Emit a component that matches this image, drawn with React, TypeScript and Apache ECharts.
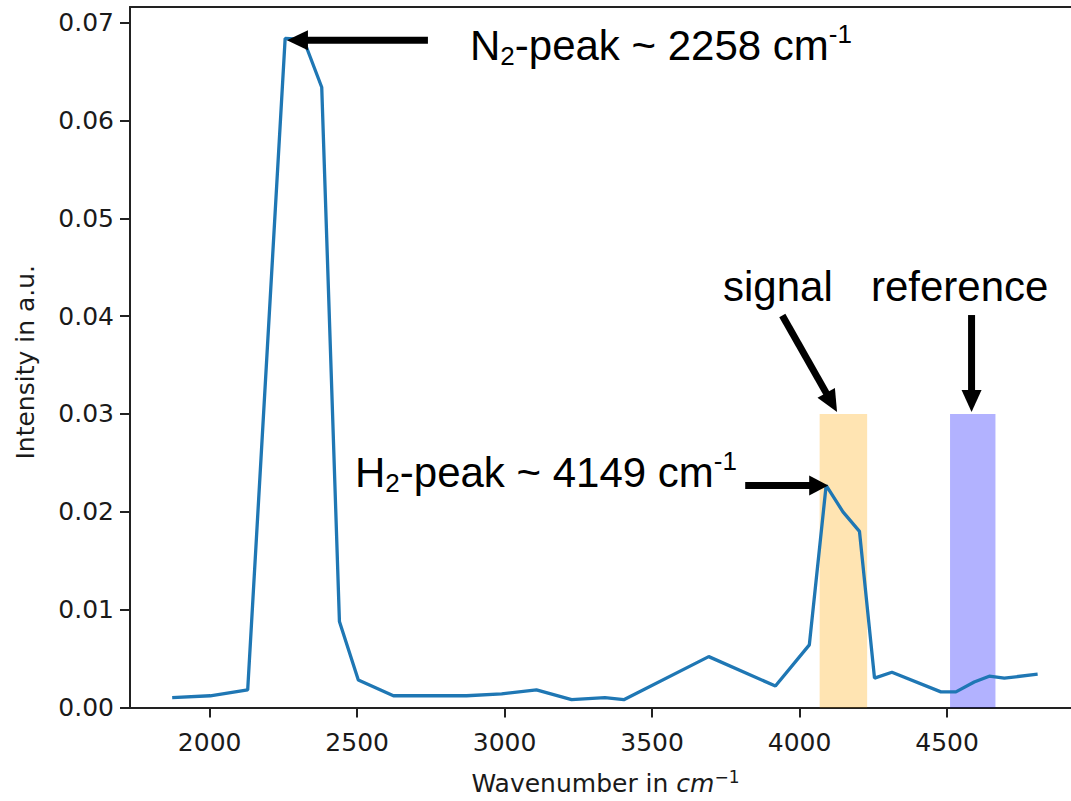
import React, { useEffect, useRef } from "react";
import * as echarts from "echarts";

// ---- data ----
const wavenumbers = [
  1873, 2002, 2129, 2256, 2318, 2380, 2440, 2504, 2623, 2750, 2871, 2990, 3108,
  3227, 3340, 3404, 3692, 3918, 4033, 4090, 4147, 4203, 4254, 4313, 4479, 4530,
  4592, 4643, 4694, 4807,
];
const intensity = [
  0.001, 0.0012, 0.0018, 0.0684, 0.0683, 0.0634, 0.0088, 0.0028, 0.0012, 0.0012,
  0.0012, 0.0014, 0.0018, 0.0008, 0.001, 0.0008, 0.0052, 0.0022, 0.0064, 0.0227,
  0.02, 0.018, 0.003, 0.0036, 0.0016, 0.0016, 0.0026, 0.0032, 0.003, 0.0034,
];
const xTicks = [2000, 2500, 3000, 3500, 4000, 4500];
const yTicks = [0, 0.01, 0.02, 0.03, 0.04, 0.05, 0.06, 0.07];
const signalBand = [4068, 4229];
const referenceBand = [4510, 4664];
const bandTop = 0.03;
const xLimits = [1730, 4954];
const yLimits = [0, 0.0716];

const n2Label = "{m|N}{sub|2}{m|-peak ~ 2258 cm}{sup|-1}";
const h2Label = "{m|H}{sub|2}{m|-peak ~ 4149 cm}{sup|-1}";
const signalLabel = "signal";
const referenceLabel = "reference";

export default function App() {
  const ref = useRef<HTMLDivElement>(null);

  useEffect(() => {
    const chart = echarts.init(ref.current!, null, { renderer: "svg" });
    const axisColor = "#222";
    const textColor = "#1a1a1a";
    const font = "DejaVu Sans";
    const axisLine = { show: true, onZero: false, lineStyle: { color: axisColor, width: 2 } };

    chart.setOption({
      animation: false,
      backgroundColor: "#ffffff",
      grid: { left: 130, top: 7, right: 19, bottom: 88, containLabel: false },
      xAxis: [
        {
          type: "value",
          min: xLimits[0],
          max: xLimits[1],
          position: "bottom",
          axisLine,
          axisTick: {
            show: true,
            length: 10,
            customValues: xTicks,
            lineStyle: { color: axisColor, width: 2 },
          },
          axisLabel: {
            customValues: xTicks,
            margin: 22,
            fontFamily: font,
            fontSize: 25,
            lineHeight: 25,
            color: textColor,
            formatter: (v: number) => String(v),
          },
          splitLine: { show: false },
          name: "{a|Wavenumber in }{i|cm}{s|\u22121}",
          nameLocation: "middle",
          nameGap: 61,
          nameTextStyle: {
            rich: {
              a: { fontFamily: font, fontSize: 25, lineHeight: 30, color: textColor },
              i: { fontFamily: font, fontStyle: "italic", fontSize: 25, lineHeight: 30, color: textColor },
              s: { fontFamily: font, fontSize: 17, lineHeight: 20, verticalAlign: "top", color: textColor },
            },
          },
        },
        {
          type: "value",
          min: xLimits[0],
          max: xLimits[1],
          position: "top",
          axisLine,
          axisTick: { show: false },
          axisLabel: { show: false },
          splitLine: { show: false },
        },
      ],
      yAxis: {
        type: "value",
        min: yLimits[0],
        max: yLimits[1],
        axisLine,
        axisTick: {
          show: true,
          length: 10,
          customValues: yTicks,
          lineStyle: { color: axisColor, width: 2 },
        },
        axisLabel: {
          customValues: yTicks,
          margin: 16,
          fontFamily: font,
          fontSize: 25,
          color: textColor,
          formatter: (v: number) => v.toFixed(2),
        },
        splitLine: { show: false },
        name: "Intensity in a.u.",
        nameLocation: "middle",
        nameRotate: 90,
        nameGap: 90,
        nameTextStyle: {
          fontFamily: font,
          fontSize: 25,
          lineHeight: 30,
          color: textColor,
          padding: [0, 10, 0, 0],
        },
      },
      series: [
        {
          type: "line",
          z: 1,
          data: [[wavenumbers[0], intensity[0]]],
          symbol: "none",
          lineStyle: { width: 0 },
          silent: true,
          markArea: {
            silent: true,
            label: { show: false },
            data: [
              [
                { xAxis: signalBand[0], yAxis: 0, itemStyle: { color: "rgba(255,165,0,0.3)" } },
                { xAxis: signalBand[1], yAxis: bandTop },
              ],
              [
                { xAxis: referenceBand[0], yAxis: 0, itemStyle: { color: "rgba(0,0,255,0.3)" } },
                { xAxis: referenceBand[1], yAxis: bandTop },
              ],
            ],
          },
        },
        {
          type: "line",
          z: 3,
          data: wavenumbers.map((x, i) => [x, intensity[i]]),
          symbol: "none",
          lineStyle: { color: "#1f77b4", width: 3.3 },
          itemStyle: { color: "#1f77b4" },
        },
      ],
    });

    const px = (v: number[]) =>
      chart.convertToPixel({ xAxisIndex: 0, yAxisIndex: 0 }, v) as number[];

    const arrow = (
      tipData: number[],
      dir: number[],
      length: number,
      headLen = 21,
      halfW = 10,
      shaftW = 7
    ) => {
      const [tx, ty] = px(tipData);
      const d = Math.hypot(dir[0], dir[1]);
      const ux = dir[0] / d;
      const uy = dir[1] / d;
      const nx = -uy;
      const ny = ux;
      const bx = tx - ux * headLen;
      const by = ty - uy * headLen;
      return [
        {
          type: "line",
          z: 100,
          shape: { x1: tx - ux * length, y1: ty - uy * length, x2: bx + ux * 2, y2: by + uy * 2 },
          style: { stroke: "#000", lineWidth: shaftW },
        },
        {
          type: "polygon",
          z: 100,
          shape: {
            points: [
              [tx, ty],
              [bx + nx * halfW, by + ny * halfW],
              [bx - nx * halfW, by - ny * halfW],
            ],
          },
          style: { fill: "#000" },
        },
      ];
    };

    const ann = "Liberation Sans";
    const rich = {
      m: { fontFamily: ann, fontSize: 42, lineHeight: 48, fill: "#000", color: "#000" },
      sub: { fontFamily: ann, fontSize: 26, lineHeight: 22, verticalAlign: "bottom", fill: "#000", color: "#000" },
      sup: { fontFamily: ann, fontSize: 26, lineHeight: 42, verticalAlign: "top", fill: "#000", color: "#000" },
    };
    const text = (t: string, x: number, y: number, withRich: boolean) => ({
      type: "text",
      z: 100,
      x,
      y,
      style: {
        text: t,
        fill: "#000",
        font: `42px "${ann}"`,
        fontFamily: ann,
        fontSize: 42,
        align: "left",
        verticalAlign: "middle",
        textAlign: "left",
        textVerticalAlign: "middle",
        ...(withRich ? { rich } : {}),
      },
    });

    chart.setOption({
      graphic: {
        elements: [
          ...arrow([2262, 0.0682], [-1, 0], 141),
          ...arrow([4097, 0.0227], [1, 0], 83, 19),
          ...arrow([4127, 0.0302], [55, 97], 111, 22),
          ...arrow([4583, 0.0302], [0, 1], 97, 22),
          text(n2Label, 470, 45, true),
          text(h2Label, 355, 472, true),
          text(signalLabel, 723, 286, false),
          text(referenceLabel, 871, 286, false),
        ],
      },
    });

    return () => chart.dispose();
  }, []);

  return (
    <div
      style={{
        position: "absolute",
        left: 0,
        top: 0,
        width: 1071,
        height: 801,
        overflow: "hidden",
        background: "#fff",
      }}
    >
      <div ref={ref} style={{ width: 1100, height: 801 }} />
    </div>
  );
}
